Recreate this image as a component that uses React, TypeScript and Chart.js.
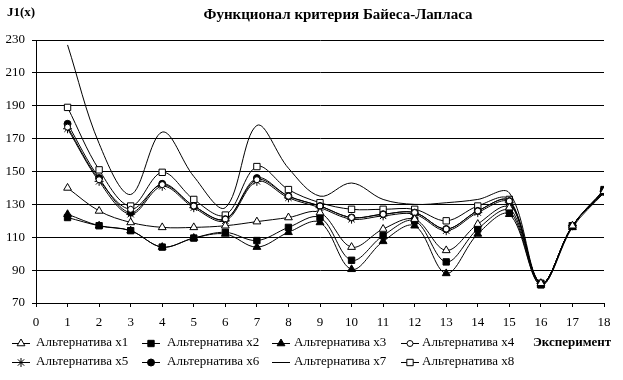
import React, { useEffect, useRef } from 'react';
import { Chart, registerables } from 'chart.js';
import { drawPoint } from 'chart.js/helpers';

Chart.register(...registerables);

const FONT = "'Liberation Serif', 'Times New Roman', serif";

const chartTitle = 'Функционал критерия Байеса-Лапласа';
const yAxisTitle = 'J1(x)';
const xAxisTitle = 'Эксперимент';

const experiments = [1, 2, 3, 4, 5, 6, 7, 8, 9, 10, 11, 12, 13, 14, 15, 16, 17, 18];

const seriesNames = [
  'Альтернатива x1',
  'Альтернатива x2',
  'Альтернатива x3',
  'Альтернатива x4',
  'Альтернатива x5',
  'Альтернатива x6',
  'Альтернатива x7',
  'Альтернатива x8',
];

const alt1 = [140, 126, 119, 116, 116, 117, 119.5, 122, 125, 104, 115, 121, 102, 118, 128, 82, 117, 138];
const alt2 = [122, 117, 114, 104, 109.5, 113, 108, 116, 122, 96, 111, 120, 95, 115, 126, 81, 117, 139];
const alt3 = [124, 117, 114, 104, 109.5, 112, 104, 113, 119, 90.5, 107.5, 117, 88, 112, 124, 81, 116, 137];
const alt4 = [177, 145, 127, 142, 129, 121, 145, 135, 129, 122, 124, 125, 115, 126, 132, 82, 117, 138];
const alt5 = [176, 144, 124, 141, 128, 120, 144, 134, 128, 121, 123, 124, 114, 125, 131, 82, 117, 138];
const alt6 = [179, 146, 125, 142.5, 129, 121, 146, 135, 129, 122, 124, 125, 115, 126, 132, 82, 117, 138];
const alt7 = [227, 167, 136, 174, 147, 128, 178, 152, 135, 143, 133, 130, 131, 133, 137, 82, 117, 138];
const alt8 = [189, 151, 129, 149.5, 133, 123.5, 153, 139, 131, 127, 127, 127, 120, 129, 133, 82, 117, 138];

const seriesValues = [alt1, alt2, alt3, alt4, alt5, alt6, alt7, alt8];

const xMin = 0;
const xMax = 18;
const yMin = 70;
const yMax = 230;
const yStep = 20;

type MarkerStyle = { style: any; radius: number; fill: string };
const markers: MarkerStyle[] = [
  { style: 'triangle', radius: 4.5, fill: '#ffffff' },
  { style: 'rect', radius: 4.5, fill: '#000000' },
  { style: 'triangle', radius: 4.5, fill: '#000000' },
  { style: 'circle', radius: 3, fill: '#ffffff' },
  { style: 'star', radius: 4.5, fill: '#000000' },
  { style: 'circle', radius: 3.5, fill: '#000000' },
  { style: false, radius: 0, fill: '#000000' },
  { style: 'rect', radius: 4.5, fill: '#ffffff' },
];

const legendCols = [
  { marker: 21, text: 36 },
  { marker: 151, text: 167 },
  { marker: 281, text: 294 },
  { marker: 410, text: 422 },
];
const legendRows = [343, 362];

const decorPlugin = {
  id: 'decor',
  afterDraw(chart: any) {
    const ctx: CanvasRenderingContext2D = chart.ctx;
    ctx.save();
    ctx.fillStyle = '#000';
    ctx.textBaseline = 'middle';
    ctx.font = `bold 13px ${FONT}`;
    ctx.textAlign = 'left';
    ctx.fillText(yAxisTitle, 7, 13);
    ctx.font = `bold 15px ${FONT}`;
    ctx.textAlign = 'center';
    ctx.fillText(chartTitle, 338, 15);
    ctx.font = `bold 13px ${FONT}`;
    ctx.textAlign = 'left';
    ctx.fillText(xAxisTitle, 533, legendRows[0]);

    ctx.font = `13px ${FONT}`;
    seriesNames.forEach((name, i) => {
      const col = legendCols[i % 4];
      const y = legendRows[Math.floor(i / 4)];
      ctx.strokeStyle = '#000';
      ctx.lineWidth = 1;
      ctx.beginPath();
      ctx.moveTo(col.marker - 9, y + 0.5);
      ctx.lineTo(col.marker + 9, y + 0.5);
      ctx.stroke();
      const m = markers[i];
      if (m.style) {
        ctx.fillStyle = m.fill;
        ctx.strokeStyle = '#000';
        drawPoint(ctx, { pointStyle: m.style, radius: m.radius, rotation: 0, borderWidth: 1 } as any, col.marker, y + 0.5);
      }
      ctx.fillStyle = '#000';
      ctx.fillText(name, col.text, y);
    });
    ctx.restore();
  },
};

export default function App() {
  const canvasRef = useRef<HTMLCanvasElement | null>(null);

  useEffect(() => {
    if (!canvasRef.current) return;
    const datasets = seriesValues.map((vals, i) => ({
      label: seriesNames[i],
      data: experiments.map((e, j) => ({ x: e, y: vals[j] })),
      borderColor: '#000000',
      backgroundColor: markers[i].fill,
      borderWidth: 1,
      tension: 0.35,
      pointStyle: markers[i].style,
      pointRadius: markers[i].radius,
      pointBackgroundColor: markers[i].fill,
      pointBorderColor: '#000000',
      pointBorderWidth: 1,
      fill: false,
    }));

    const chart = new Chart(canvasRef.current, {
      type: 'line',
      data: { datasets },
      plugins: [decorPlugin],
      options: {
        animation: false,
        responsive: false,
        layout: { padding: { top: 40, right: 19, left: 0, bottom: 0 } },
        plugins: {
          legend: { display: false },
          title: { display: false },
          tooltip: { enabled: false },
        },
        scales: {
          x: {
            type: 'linear',
            min: xMin,
            max: xMax,
            afterFit: (scale: any) => {
              scale.height = 77;
            },
            ticks: {
              stepSize: 1,
              color: '#000',
              padding: 8,
              maxRotation: 0,
              autoSkip: false,
              font: { family: FONT, size: 13 },
            },
            grid: {
              drawOnChartArea: false,
              drawTicks: true,
              tickLength: 4,
              color: '#000',
            },
            border: { display: true, color: '#000', width: 1 },
          },
          y: {
            type: 'linear',
            min: yMin,
            max: yMax,
            afterFit: (scale: any) => {
              scale.width = 36;
            },
            ticks: {
              stepSize: yStep,
              color: '#000',
              padding: 7,
              font: { family: FONT, size: 13 },
            },
            grid: {
              color: '#000',
              tickLength: 4,
              drawTicks: true,
            },
            border: { display: true, color: '#000', width: 1 },
          },
        },
      } as any,
    });
    return () => chart.destroy();
  }, []);

  return (
    <div style={{ position: 'fixed', left: 0, top: 0, width: 623, height: 380, background: '#fff' }}>
      <canvas ref={canvasRef} width={623} height={380} />
    </div>
  );
}
